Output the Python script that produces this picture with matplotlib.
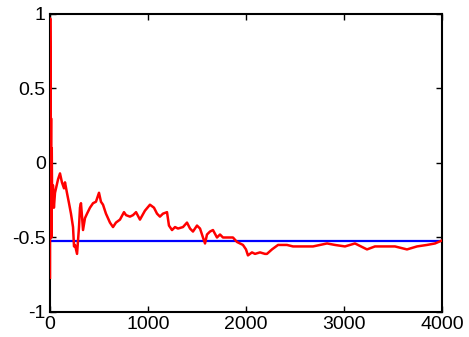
import numpy as np
import matplotlib
matplotlib.use("Agg")
import matplotlib.pyplot as plt

plt.rcParams['font.family'] = ['Liberation Sans', 'DejaVu Sans']

# running estimate
est_x = [0, 2, 5, 8, 11, 14, 18, 22, 30, 40, 51, 82, 102, 122, 143, 153, 173, 194,
         214, 235, 245, 255, 276, 296, 306, 316, 327, 337, 357, 378, 408, 439, 469,
         500, 520, 541, 571, 612, 643, 673, 714, 755, 776, 816, 847, 878, 918, 969,
         1020, 1061, 1092, 1122, 1153, 1194, 1214, 1245, 1276, 1306, 1357, 1398,
         1429, 1459, 1500, 1531, 1561, 1582, 1602, 1633, 1663, 1704, 1735, 1765,
         1806, 1837, 1867, 1908, 1939, 1969, 2000, 2020, 2061, 2092, 2143, 2194,
         2214, 2265, 2327, 2418, 2480, 2582, 2684, 2827, 2908, 3010, 3112, 3235,
         3316, 3418, 3520, 3643, 3745, 3847, 3929, 4000]
est_y = [-0.77, 0.97, 0.55, -0.10, 0.30, -0.50, 0.10, -0.30, -0.15, -0.30, -0.20,
         -0.11, -0.07, -0.13, -0.17, -0.13, -0.20, -0.27, -0.34, -0.43, -0.56,
         -0.55, -0.61, -0.43, -0.30, -0.27, -0.36, -0.45, -0.37, -0.34, -0.30,
         -0.27, -0.26, -0.20, -0.26, -0.28, -0.34, -0.40, -0.43, -0.40, -0.38,
         -0.33, -0.35, -0.36, -0.35, -0.33, -0.38, -0.32, -0.28, -0.30, -0.34,
         -0.36, -0.34, -0.33, -0.42, -0.45, -0.43, -0.44, -0.43, -0.40, -0.44,
         -0.46, -0.42, -0.44, -0.50, -0.54, -0.48, -0.46, -0.45, -0.50, -0.48,
         -0.50, -0.50, -0.50, -0.50, -0.53, -0.54, -0.55, -0.58, -0.62, -0.60,
         -0.61, -0.60, -0.61, -0.61, -0.58, -0.55, -0.55, -0.56, -0.56, -0.56,
         -0.54, -0.55, -0.56, -0.54, -0.58, -0.56, -0.56, -0.56, -0.58, -0.56,
         -0.55, -0.54, -0.52]
true_val = -0.523

xticks = [0, 1000, 2000, 3000, 4000]
yticks = [-1, -0.5, 0, 0.5, 1]
ylabels = ['-1', '-0.5', '0', '0.5', '1']

fig = plt.figure(figsize=(4.69, 3.37), dpi=100)
ax = fig.add_axes([0.1066, 0.0742, 0.8358, 0.8843])

ax.plot(est_x, est_y, color='#ff0000', lw=1.8, zorder=3)
ax.axhline(true_val, color='#0000ff', lw=1.6, zorder=2)

ax.set_xlim(0, 4000)
ax.set_ylim(-1, 1)
ax.set_xticks(xticks)
ax.set_xticklabels([str(t) for t in xticks])
ax.set_yticks(yticks)
ax.set_yticklabels(ylabels)
ax.tick_params(direction='in', length=4, width=1, top=True, right=True,
               labelsize=14, pad=3)
for s in ax.spines.values():
    s.set_linewidth(1.5)

fig.savefig('out.png', dpi=100)
